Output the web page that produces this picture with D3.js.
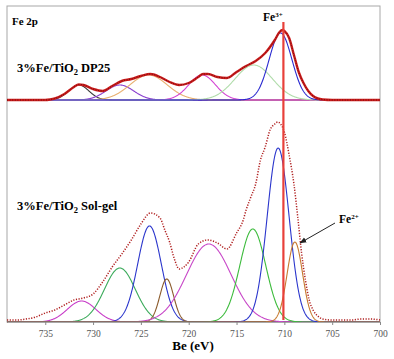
<!DOCTYPE html>
<html>
<head>
<meta charset="utf-8">
<script src="https://cdn.jsdelivr.net/npm/d3@7"></script>
<style>
  body { margin: 0; background: #fff; }
</style>
</head>
<body>
<div id="chart"></div>
<script>
// x axis ticks (binding energy, eV)
const tickValues = [735, 730, 725, 720, 715, 710, 705, 700];

// 3%Fe/TiO2 DP25 - measured spectrum (a.u.)
const dp25Ev  = [739, 735, 734.5, 734, 733, 732, 731.5, 731, 730, 729, 728, 727, 726, 725, 724, 723, 722, 721, 720, 719, 718.5, 718, 717, 716, 715, 714, 713, 712, 711, 710.5, 710.2, 710, 709.5, 709, 708.5, 708, 707.5, 707, 706.5, 706, 705, 700];
const dp25Int = [0, 0, 0.5, 1.5, 6, 13, 15.5, 15, 11, 9, 14, 19, 21, 24, 26, 23, 18, 15, 17, 23, 26, 26, 23, 22, 28, 34, 39, 47, 60, 68, 70, 69, 62, 45, 28, 17, 9, 4, 1.5, 0.5, 0, 0];

// DP25 fitted components
const dp25Centers = [731.5, 727.2, 724.2, 718.6, 713.2, 710.4];
const dp25Heights = [15, 15, 25, 25, 35, 67];
const dp25Fwhm    = [2.5, 3.4, 4.6, 3.3, 4.6, 2.8];

// 3%Fe/TiO2 Sol-gel - measured spectrum (a.u.)
const solEv  = [739, 738, 737, 736, 735, 734, 733, 732, 731, 730, 729, 728, 727, 726, 725, 724, 723, 722.5, 722, 721.5, 721, 720.5, 720, 719, 718, 717, 716, 715, 714.3, 714, 713.5, 713, 712.5, 712, 711.5, 711, 710.7, 710.4, 710, 709.5, 709, 708.6, 708.2, 707.8, 707.4, 707, 706.5, 706, 705, 704, 703, 702, 701, 700];
const solInt = [2, 2, 3, 5, 9, 12, 17, 22, 24, 28, 40, 55, 68, 82, 98, 109, 104, 92, 80, 63, 53, 55, 60, 78, 82, 79, 73, 89, 102, 112, 125, 138, 162, 175, 192, 198, 200, 198, 190, 167, 138, 105, 69, 42, 22, 12, 6, 3, 2, 2, 2, 3, 3, 2];

// Sol-gel fitted components
const solCenters = [731.2, 727.2, 724.1, 722.3, 717.9, 713.3, 710.65, 708.9];
const solHeights = [21, 54, 96, 43, 78, 93, 174, 80];
const solFwhm    = [3.5, 3.8, 2.9, 1.7, 5.5, 3.2, 2.7, 1.9];

// Fe3+ marker position
const fe3Marker = 710.1;

// colours
const dp25Colors = ["#3a3a3a", "#8a3fcf", "#e8b070", "#d444d4", "#b0dcaa", "#2a2ad0"];
const solColors  = ["#c83cc8", "#3aaa5a", "#2a35cc", "#8b5a2b", "#c848c8", "#3cbb3c", "#2a35cc", "#c87a30"];

const FONT = "Liberation Serif";
const width = 394, height = 359;
const frame = {left: 7, right: 380, top: 6, bottom: 322};

const svg = d3.select("#chart").append("svg")
  .attr("width", width).attr("height", height);

const x = d3.scaleLinear().domain([739, 700]).range([frame.left, frame.right]);
const yTop = d3.scaleLinear().domain([0, 100]).range([100, 0]);
const yBot = d3.scaleLinear().domain([0, 222]).range([frame.bottom, 100]);

// frame
svg.append("rect")
  .attr("x", frame.left).attr("y", frame.top)
  .attr("width", frame.right - frame.left).attr("height", frame.bottom - frame.top)
  .attr("fill", "none").attr("stroke", "#a8a8a8").attr("stroke-width", 1);

const grid = d3.range(739, 699.99, -0.05);
const gauss = (e, c, h, f) => {
  const s = f / 2.3548;
  return h * Math.exp(-((e - c) ** 2) / (2 * s * s));
};

function drawComponents(centers, heights, fwhm, colors, y) {
  const line = d3.line().x(d => x(d[0])).y(d => y(d[1]));
  centers.forEach((c, i) => {
    const pts = grid.map(e => [e, gauss(e, c, heights[i], fwhm[i])]);
    svg.append("path").datum(pts)
      .attr("d", line)
      .attr("fill", "none")
      .attr("stroke", colors[i])
      .attr("stroke-width", 1.1);
  });
}

// baselines
svg.append("line")
  .attr("x1", x(739)).attr("x2", x(700)).attr("y1", yTop(0)).attr("y2", yTop(0))
  .attr("stroke", "#a055e8").attr("stroke-width", 1.6);
svg.append("line")
  .attr("x1", x(739)).attr("x2", x(700)).attr("y1", yBot(0)).attr("y2", yBot(0))
  .attr("stroke", "#3aaa5a").attr("stroke-width", 1.4);

drawComponents(dp25Centers, dp25Heights, dp25Fwhm, dp25Colors, yTop);
drawComponents(solCenters, solHeights, solFwhm, solColors, yBot);

// measured spectra
const dataLine = y => d3.line().curve(d3.curveMonotoneX).x(d => x(d[0])).y(d => y(d[1]));

const dp25Pts = dp25Ev.map((e, i) => [e, dp25Int[i]]);
svg.append("path").datum(dp25Pts)
  .attr("d", dataLine(yTop))
  .attr("fill", "none").attr("stroke", "#cc1c1c").attr("stroke-width", 2.4);
svg.append("path").datum(dp25Pts)
  .attr("d", dataLine(yTop))
  .attr("fill", "none").attr("stroke", "#6a0c0c").attr("stroke-width", 1)
  .attr("stroke-dasharray", "1,1.6");

const solPts = solEv.map((e, i) => [e, solInt[i]]);
svg.append("path").datum(solPts)
  .attr("d", dataLine(yBot))
  .attr("fill", "none").attr("stroke", "#b02020").attr("stroke-width", 1.5)
  .attr("stroke-dasharray", "1.2,1.5");

// Fe3+ marker line
svg.append("line")
  .attr("x1", x(fe3Marker)).attr("x2", x(fe3Marker))
  .attr("y1", 22).attr("y2", 320)
  .attr("stroke", "#e8403a").attr("stroke-width", 2.2);

// x axis
const axis = svg.append("g")
  .attr("transform", `translate(0,${frame.bottom})`)
  .call(d3.axisBottom(x).tickValues(tickValues).tickSize(3).tickSizeOuter(0));
axis.attr("font-family", FONT);
axis.select(".domain").attr("stroke", "#a8a8a8");
axis.selectAll(".tick line").attr("stroke", "#888");
axis.selectAll(".tick text")
  .attr("font-family", FONT)
  .attr("font-size", 9.5).attr("fill", "#555").attr("dy", "0.95em");

svg.append("text")
  .attr("x", 193).attr("y", 350)
  .attr("text-anchor", "middle")
  .attr("font-family", FONT)
  .attr("font-size", 13).attr("font-weight", "bold")
  .text("Be (eV)");

// labels
svg.append("text").attr("x", 12).attr("y", 25)
  .attr("font-family", FONT)
  .attr("font-size", 11).attr("font-weight", "bold").text("Fe 2p");

function sampleLabel(yPos, tail) {
  const t = svg.append("text").attr("x", 17).attr("y", yPos)
    .attr("font-family", FONT)
    .attr("font-size", 12.5).attr("font-weight", "bold");
  t.append("tspan").text("3%Fe/TiO");
  t.append("tspan").attr("font-size", 8.5).attr("dy", 3).text("2");
  t.append("tspan").attr("dy", -3).text(" " + tail);
}
sampleLabel(72, "DP25");
sampleLabel(210, "Sol-gel");

const fe3 = svg.append("text").attr("x", 263).attr("y", 21)
  .attr("font-family", FONT)
  .attr("font-size", 11.5).attr("font-weight", "bold");
fe3.append("tspan").text("Fe");
fe3.append("tspan").attr("font-size", 7).attr("dy", -4).text("3+");

const fe2 = svg.append("text").attr("x", 339).attr("y", 223)
  .attr("font-family", FONT)
  .attr("font-size", 11.5).attr("font-weight", "bold");
fe2.append("tspan").text("Fe");
fe2.append("tspan").attr("font-size", 7).attr("dy", -4).text("2+");

// arrow to Fe2+ component
svg.append("defs").append("marker")
  .attr("id", "arrow").attr("viewBox", "0 0 10 10")
  .attr("refX", 9).attr("refY", 5)
  .attr("markerWidth", 7).attr("markerHeight", 7)
  .attr("orient", "auto")
  .append("path").attr("d", "M0,1 L10,5 L0,9 Z").attr("fill", "#222");
svg.append("line")
  .attr("x1", 335).attr("y1", 223).attr("x2", 300).attr("y2", 243)
  .attr("stroke", "#222").attr("stroke-width", 1)
  .attr("marker-end", "url(#arrow)");
</script>
</body>
</html>
